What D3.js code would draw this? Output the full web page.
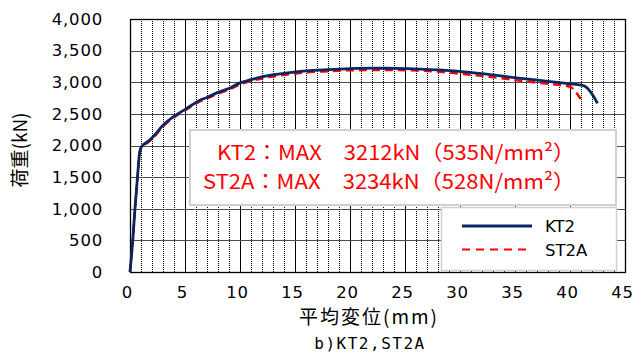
<!DOCTYPE html>
<html><head><meta charset="utf-8">
<script src="https://cdn.jsdelivr.net/npm/d3@7"></script>
<style>body{margin:0;background:#fff;} svg{display:block;}</style>
</head><body>
<svg id="c" width="638" height="354"></svg>
<script>
const xTicks = [0,5,10,15,20,25,30,35,40,45];
const yTicks = [0,500,1000,1500,2000,2500,3000,3500,4000];
const kt2X = [0,0.25,0.45,0.68,0.85,1.0,1.2,1.6,2.1,3.0,4.0,5.1,6.4,7.0,8.0,9.1,10.0,11.0,12.0,14.0,16.0,18.0,20.0,22.0,24.0,26.4,28.0,30.9,33.0,35.5,38.0,40.0,41.0,41.5,41.9,42.2,42.5];
const kt2Y = [0,500,1000,1500,1850,1970,2010,2060,2140,2320,2460,2580,2720,2760,2840,2910,2990,3040,3085,3140,3180,3200,3215,3222,3220,3209,3195,3155,3115,3062,3015,2975,2955,2920,2840,2760,2667];
const st2aX = [0,0.25,0.45,0.68,0.85,1.0,1.2,1.6,2.1,3.0,4.0,5.1,6.4,7.0,8.0,9.1,10.0,11.0,12.0,14.0,16.0,18.0,20.0,22.0,24.0,26.4,28.0,30.9,33.0,35.5,38.0,40.0,40.5,40.97];
const st2aY = [0,490,990,1490,1840,1960,2000,2045,2120,2300,2445,2565,2700,2745,2820,2890,2965,3020,3060,3115,3155,3175,3190,3195,3194,3183,3168,3120,3080,3025,2975,2930,2850,2735];
const seriesNames = ["KT2","ST2A"];
const annoLines = ["KT2：MAX　3212kN（535N/mm²）","ST2A：MAX　3234kN（528N/mm²）"];
const xTitle = "平均変位(mm)";
const yTitle = "荷重(kN)";
const caption = "b)KT2,ST2A";

const svg = d3.select("#c");
const x = d3.scaleLinear().domain([0,45]).range([130,625]);
const y = d3.scaleLinear().domain([0,4000]).range([272,19]);
const fmt = d3.format(",");

// minor vertical dotted grid
const minor = d3.range(1,45).filter(v => v%5!==0);
svg.append("g").selectAll("line").data(minor).join("line")
  .attr("x1",d=>x(d)+0.5).attr("x2",d=>x(d)+0.5).attr("y1",y(4000)).attr("y2",y(0))
  .attr("stroke","#000").attr("stroke-width",1).attr("stroke-dasharray","1,1");
// major vertical
svg.append("g").selectAll("line").data([5,10,15,20,25,30,35,40]).join("line")
  .attr("x1",d=>x(d)+0.5).attr("x2",d=>x(d)+0.5).attr("y1",y(4000)).attr("y2",y(0))
  .attr("stroke","#000").attr("stroke-width",1);
// horizontal grid
svg.append("g").selectAll("line").data(yTicks.slice(1,-1)).join("line")
  .attr("x1",x(0)).attr("x2",x(45)).attr("y1",d=>Math.round(y(d))+0.5).attr("y2",d=>Math.round(y(d))+0.5)
  .attr("stroke","#4d4d4d").attr("stroke-width",1.2);
// frame
svg.append("rect").attr("x",x(0)+0.5).attr("y",Math.round(y(4000))+0.5)
  .attr("width",x(45)-x(0)).attr("height",Math.round(y(0))-Math.round(y(4000)))
  .attr("fill","none").attr("stroke","#000").attr("stroke-width",1.3);

// axes labels
const yAxis = d3.axisLeft(y).tickValues(yTicks).tickFormat(fmt).tickSize(0).tickPadding(27);
const gy = svg.append("g").attr("transform",`translate(${x(0)},0)`).call(yAxis);
gy.select(".domain").remove();
gy.selectAll("text").attr("font-family","DejaVu Sans").attr("font-size",16.5).attr("letter-spacing",0.8).attr("fill","#000");
const xAxis = d3.axisBottom(x).tickValues(xTicks).tickSize(0).tickPadding(14);
const gx = svg.append("g").attr("transform",`translate(-3,${y(0)})`).call(xAxis);
gx.select(".domain").remove();
gx.selectAll("text").attr("font-family","DejaVu Sans").attr("font-size",16.5).attr("letter-spacing",0.8).attr("fill","#000");

// lines
const line = d3.line().x(d=>x(d[0])).y(d=>y(d[1])).curve(d3.curveMonotoneX);
const kt2 = kt2X.map((v,i)=>[v,kt2Y[i]]);
const st2a = st2aX.map((v,i)=>[v,st2aY[i]]);
svg.append("path").datum(st2a).attr("d",line).attr("fill","none")
  .attr("stroke","#ff0000").attr("stroke-width",2.5).attr("stroke-dasharray","8,5");
svg.append("path").datum(kt2).attr("d",line).attr("fill","none")
  .attr("stroke","#0b2560").attr("stroke-width",2.8).attr("stroke-linejoin","round");

// annotation box
svg.append("rect").attr("x",190).attr("y",130).attr("width",426).attr("height",75)
  .attr("fill","#fff").attr("stroke","#d0d0d0").attr("stroke-width",2);
const annoW = [358, 372];
svg.append("g").selectAll("text").data(annoLines).join("text")
  .attr("x",(d,i)=>575-annoW[i]).attr("y",(d,i)=>160+i*29)
  .attr("textLength",(d,i)=>annoW[i]).attr("lengthAdjust","spacingAndGlyphs")
  .attr("font-family","Noto Sans CJK JP").attr("font-size",20.5).attr("fill","#ff0000")
  .text(d=>d);

// legend
svg.append("rect").attr("x",441.5).attr("y",207.5).attr("width",175).attr("height",63)
  .attr("fill","#fff").attr("stroke","#d0d0d0").attr("stroke-width",1.5);
const leg = svg.append("g");
leg.append("line").attr("x1",462).attr("x2",532).attr("y1",226).attr("y2",226)
  .attr("stroke","#0b2560").attr("stroke-width",2.8);
leg.append("line").attr("x1",462).attr("x2",532).attr("y1",249.5).attr("y2",249.5)
  .attr("stroke","#ff0000").attr("stroke-width",2.2).attr("stroke-dasharray","8,6");
leg.selectAll("text").data(seriesNames).join("text")
  .attr("x",545).attr("y",(d,i)=>232+i*23.5)
  .attr("font-family","DejaVu Sans").attr("font-size",16.5).attr("fill","#000").text(d=>d);

// titles
svg.append("text").attr("transform","translate(27,150) rotate(-90)").attr("text-anchor","middle")
  .attr("font-family","Noto Sans CJK JP").attr("font-size",19).attr("fill","#000").text(yTitle);
svg.append("text").attr("x",369).attr("y",324).attr("text-anchor","middle")
  .attr("font-family","Noto Sans CJK JP").attr("font-size",19).attr("letter-spacing",2).attr("fill","#000").text(xTitle);
svg.append("text").attr("x",370).attr("y",349).attr("text-anchor","middle")
  .attr("font-family","DejaVu Sans Mono").attr("font-size",16).attr("letter-spacing",1.5).attr("fill","#000").text(caption);
</script>
</body></html>
